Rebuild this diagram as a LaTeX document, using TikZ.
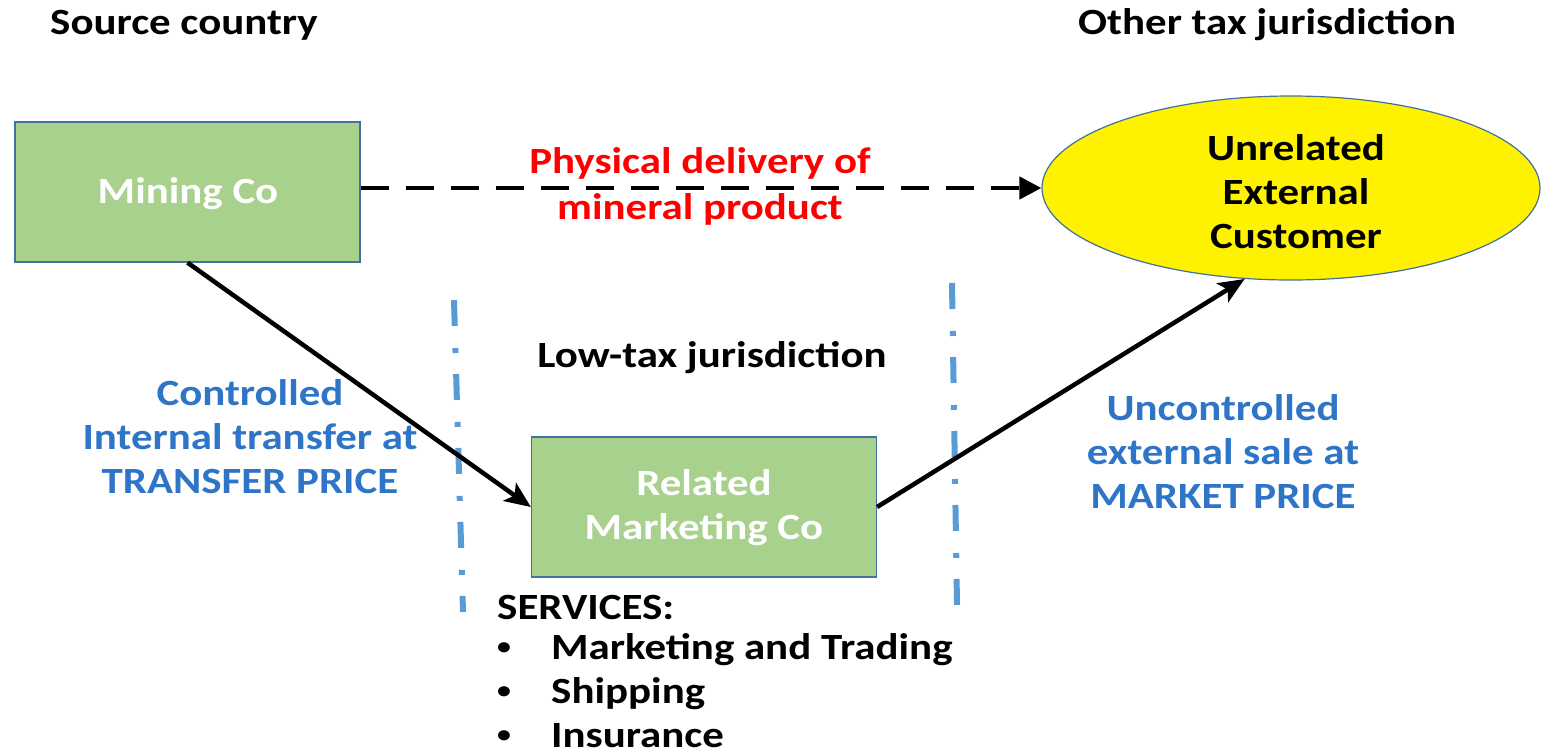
\documentclass[tikz,border=0pt]{standalone}
\usepackage{fontspec}
\setmainfont{Carlito}[FakeStretch=1.16]
\usetikzlibrary{shapes.geometric,arrows.meta,calc}
\definecolor{boxgreen}{RGB}{169,209,142}
\definecolor{boxedge}{RGB}{65,113,156}
\definecolor{labelblue}{RGB}{46,117,200}
\definecolor{borderblue}{RGB}{91,155,213}
\newcommand{\svcbullet}{\makebox[54pt][l]{\hspace{0pt}\raisebox{5pt}{\fontsize{24}{24}\selectfont •}}}
\begin{document}
\begin{tikzpicture}[x=1pt,y=-1pt,
  txt/.style={font=\fontsize{37}{44}\selectfont\bfseries, align=center, inner sep=0pt},
  entity/.style={draw=boxedge, line width=1.2pt, fill=boxgreen, minimum width=345pt, minimum height=140pt, inner sep=0pt},
  entitytext/.style={txt, text=white},
  flow/.style={line width=4.5pt, -{Stealth[length=26pt,width=22pt,inset=6pt]}},
  border/.style={draw=borderblue, line width=6pt, dash pattern=on 26pt off 22pt on 5pt off 21pt}
]
\useasboundingbox (0,0) rectangle (1551,753);

% jurisdiction headings
\node[txt, anchor=west] (src) at (50,25) {Source country};
\node[txt, anchor=west] (oth) at (1078,25) {Other tax jurisdiction};
\node[txt] (low) at (712,358) {Low-tax jurisdiction};

% entities
\node[entity] (mining) at (187.5,192) {};
\node[entitytext] (miningtxt) at (188,194) {Mining Co};
\node[entity] (related) at (704,507) {};
\node[entitytext] (relatedtxt) at (704,508) {Related\\Marketing Co};
\node[ellipse, draw=boxedge, line width=1.2pt, fill=yellow, minimum width=498pt, minimum height=184pt, inner sep=0pt] (cust) at (1291,188) {};
\node[txt] (custtxt) at (1296,192) {Unrelated\\External\\Customer};

% jurisdiction borders
\coordinate (b1t) at (454,300);
\coordinate (b1b) at (463,612);
\coordinate (b2t) at (952,283);
\coordinate (b2b) at (957,605);
\draw[border] (b1t) -- (b1b);
\draw[border] (b2t) -- (b2b);

% flows
\draw[line width=4.5pt, dash pattern=on 28pt off 17pt, -{Triangle[length=22pt,width=22pt]}] (mining.east |- cust.west) -- (cust.west);
\draw[flow] (mining.south) -- (related.west);
\draw[flow] (related.east) -- (cust.-117);

% flow labels
\node[txt, text=red, align=center] (phys) at (700,186) {Physical delivery of\\[2pt]mineral product};
\node[txt, text=labelblue] (ctrl) at (250,437) {Controlled\\Internal transfer at\\TRANSFER PRICE};
\node[txt, text=labelblue] (unctrl) at (1223,452) {Uncontrolled\\external sale at\\MARKET PRICE};

% services list
\node[txt, anchor=west] (svc) at (497,607) {SERVICES:};
\node[txt, anchor=west, align=left] (svclist) at (497,691) {\svcbullet Marketing and Trading\\\svcbullet Shipping\\\svcbullet Insurance};
\end{tikzpicture}
\end{document}
